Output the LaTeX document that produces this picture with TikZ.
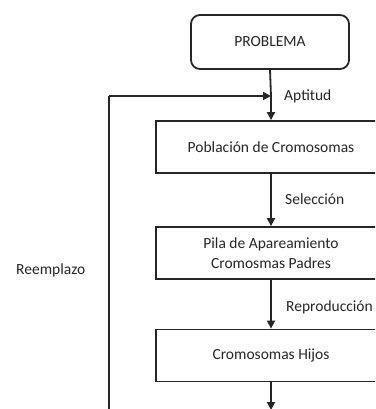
\documentclass[tikz,border=0pt]{standalone}
\usepackage{fontspec}
\setmainfont{Carlito}
\usetikzlibrary{arrows.meta}
\begin{document}
\begin{tikzpicture}[x=1pt,y=-1pt,
  every node/.style={font=\fontsize{15.5}{19.5}\selectfont, text=black!85},
  box/.style={draw=black!85, line width=1.8pt, minimum width=230pt, minimum height=52pt, align=center, inner sep=0pt},
  rbox/.style={draw=black!85, line width=1.8pt, rounded corners=9pt, minimum width=158pt, minimum height=54pt, inner sep=0pt},
  conn/.style={draw=black!85, line width=1.8pt, -{Triangle[length=8pt,width=8pt]}},
  lbl/.style={anchor=west, inner sep=0pt}]
\clip (0,0) rectangle (375,409);
\fill[white] (0,0) rectangle (375,409);
\node[rbox] (prob) at (270,42) {PROBLEMA};
\node[box] (pob) at (271,147) {Población de Cromosomas};
\node[box] (pila) at (271,253) {Pila de Apareamiento\\Cromosmas Padres};
\node[box] (hijos) at (271,355.5) {Cromosomas Hijos};
\coordinate (merge) at (271,96);
\coordinate (out) at (271,410);
\coordinate (bl) at (109,412);
\coordinate (tl) at (109,96);
\draw[draw=black!85, line width=1.8pt] (prob.south) -- (merge);
\draw[conn] (merge) -- (pob.north);
\draw[conn] (pob.south) -- (pila.north);
\draw[conn] (pila.south) -- (hijos.north);
\draw[conn] (hijos.south) -- (out);
\draw[draw=black!85, line width=1.8pt] (bl) -- (tl);
\draw[conn] (tl) -- (merge);
\node[lbl] (apt) at (284,96) {Aptitud};
\node[lbl] (sel) at (285,199) {Selección};
\node[lbl] (rep) at (286,307) {Reproducción};
\node[lbl] (ree) at (16,270) {Reemplazo};
\end{tikzpicture}
\end{document}
